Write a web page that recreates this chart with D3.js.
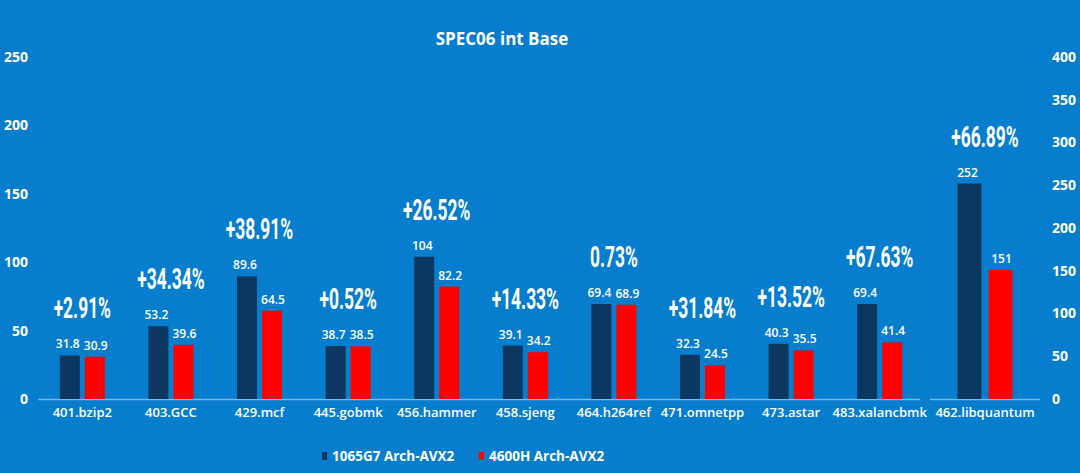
<!DOCTYPE html>
<html>
<head>
<meta charset="utf-8">
<script src="https://cdn.jsdelivr.net/npm/d3@7"></script>
<style>
  html, body { margin: 0; padding: 0; background: #067dcd; }
  svg { display: block; }
  .tick text { fill: #ffffff; font-family: "Open Sans", sans-serif; font-weight: 700; font-size: 14px; }
</style>
</head>
<body>
<div class="spec_chart"></div>
<script>
// left panel benchmarks (0-250 scale)
const categories = ['401.bzip2', '403.GCC', '429.mcf', '445.gobmk', '456.hammer',
  '458.sjeng', '464.h264ref', '471.omnetpp', '473.astar', '483.xalancbmk'];
const intel_vals = [31.8, 53.2, 89.6, 38.7, 104, 39.1, 69.4, 32.3, 40.3, 69.4];
const amd_vals   = [30.9, 39.6, 64.5, 38.5, 82.2, 34.2, 68.9, 24.5, 35.5, 41.4];
const pct_labels = ['+2.91%', '+34.34%', '+38.91%', '+0.52%', '+26.52%',
  '+14.33%', '0.73%', '+31.84%', '+13.52%', '+67.63%'];

// right panel (0-400 scale)
const right_categories = ['462.libquantum'];
const right_intel = [252];
const right_amd = [151];
const right_pct = ['+66.89%'];

const series = ['1065G7 Arch-AVX2', '4600H Arch-AVX2'];
const left_ticks = [0, 50, 100, 150, 200, 250];
const right_ticks = [0, 50, 100, 150, 200, 250, 300, 350, 400];

const W = 1080, H = 473;
const yBase = 399, yTop = 57;
const colors = d3.scaleOrdinal().domain(series).range(['#0b3760', '#ff0000']);

const svg = d3.select('.spec_chart').append('svg')
  .attr('width', W)
  .attr('height', H);

svg.append('rect').attr('width', W).attr('height', H).attr('fill', '#067dcd');

const yL = d3.scaleLinear().domain([0, 250]).range([yBase, yTop]);
const yR = d3.scaleLinear().domain([0, 400]).range([yBase, yTop]);

const xL = d3.scaleBand().domain(categories).range([38, 924]);
const xR = d3.scaleBand().domain(right_categories).range([930, 1040]);

const subL = d3.scaleBand().domain(series).range([-22.5, 22.5]).paddingInner(0.2);
const subR = d3.scaleBand().domain(series).range([-27.5, 27.5]).paddingInner(0.23);

const leftData = categories.map((c, i) => ({
  cat: c, pct: pct_labels[i],
  vals: [{s: series[0], v: intel_vals[i]}, {s: series[1], v: amd_vals[i]}]
}));
const rightData = right_categories.map((c, i) => ({
  cat: c, pct: right_pct[i],
  vals: [{s: series[0], v: right_intel[i]}, {s: series[1], v: right_amd[i]}]
}));

// title
svg.append('text')
  .attr('x', 502).attr('y', 45)
  .attr('text-anchor', 'middle')
  .attr('font-family', 'Open Sans, sans-serif')
  .attr('font-weight', 700)
  .attr('font-size', '17px')
  .attr('fill', '#ffffff')
  .text('SPEC06 int Base');

// axes
svg.append('g')
  .attr('transform', 'translate(38,0)')
  .call(d3.axisLeft(yL).tickValues(left_ticks).tickSize(0).tickPadding(10))
  .call(g => g.select('.domain').remove());

svg.append('g')
  .attr('transform', 'translate(1040,0)')
  .call(d3.axisRight(yR).tickValues(right_ticks).tickSize(0).tickPadding(12))
  .call(g => g.select('.domain').remove());

// baselines
svg.append('line').attr('x1', 38).attr('x2', 920).attr('y1', yBase + 0.5).attr('y2', yBase + 0.5)
  .attr('stroke', '#79b9ea').attr('stroke-width', 1.5);
svg.append('line').attr('x1', 930).attr('x2', 1040).attr('y1', yBase + 0.5).attr('y2', yBase + 0.5)
  .attr('stroke', '#79b9ea').attr('stroke-width', 1.5);

function drawGroups(data, x, sub, y, cls) {
  const groups = svg.selectAll('g.' + cls)
    .data(data)
    .enter()
    .append('g')
    .attr('class', cls)
    .attr('transform', d => `translate(${x(d.cat) + x.bandwidth() / 2},0)`);

  groups.selectAll('rect')
    .data(d => d.vals)
    .enter()
    .append('rect')
    .attr('x', d => sub(d.s))
    .attr('width', sub.bandwidth())
    .attr('y', d => y(d.v))
    .attr('height', d => yBase - y(d.v))
    .attr('fill', d => colors(d.s));

  groups.selectAll('text.val')
    .data(d => d.vals)
    .enter()
    .append('text')
    .attr('class', 'val')
    .attr('x', (d, i) => sub(d.s) + sub.bandwidth() / 2 + (i === 0 ? -2 : 1))
    .attr('y', d => y(d.v) - 7)
    .attr('text-anchor', 'middle')
    .attr('font-family', 'Open Sans, sans-serif')
    .attr('font-weight', 600)
    .attr('font-size', '12px')
    .attr('fill', '#ffffff')
    .text(d => d.v);

  // condensed headline look: squeeze horizontally
  groups.append('text')
    .attr('class', 'pct')
    .attr('transform', d => `translate(0,${y(d3.max(d.vals, v => v.v)) - 37}) scale(0.58,1)`)
    .attr('text-anchor', 'middle')
    .attr('font-family', 'Roboto, Open Sans, sans-serif')
    .attr('font-weight', 700)
    .attr('font-size', '30px')
    .attr('fill', '#ffffff')
    .text(d => d.pct);

  groups.append('text')
    .attr('class', 'cat')
    .attr('x', 0)
    .attr('y', 417)
    .attr('text-anchor', 'middle')
    .attr('font-family', 'Open Sans, sans-serif')
    .attr('font-weight', 600)
    .attr('font-size', '13px')
    .attr('fill', '#ffffff')
    .text(d => d.cat);
}

drawGroups(leftData, xL, subL, yL, 'lgrp');
drawGroups(rightData, xR, subR, yR, 'rgrp');

// legend
const legend_x = [322, 479];
const leg = svg.selectAll('g.legend')
  .data(series)
  .enter()
  .append('g')
  .attr('class', 'legend')
  .attr('transform', (d, i) => `translate(${legend_x[i]},452)`);

leg.append('rect')
  .attr('width', 5).attr('height', 8)
  .attr('fill', d => colors(d));

leg.append('text')
  .attr('x', 10).attr('y', 9)
  .attr('font-family', 'Open Sans, sans-serif')
  .attr('font-weight', 700)
  .attr('font-size', '13.5px')
  .attr('fill', '#ffffff')
  .text(d => d);
</script>
</body>
</html>
